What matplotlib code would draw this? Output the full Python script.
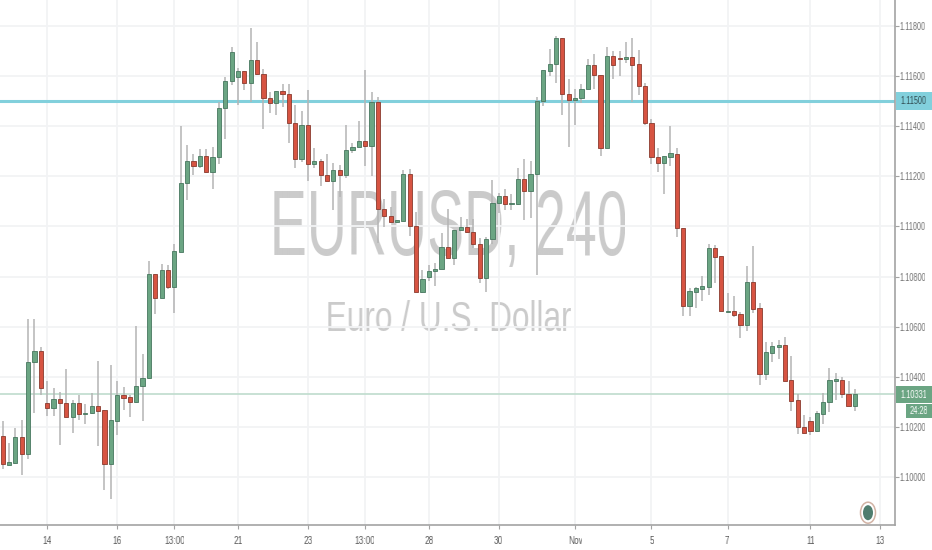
import numpy as np
import matplotlib
matplotlib.use("Agg")
import matplotlib.pyplot as plt
from matplotlib.patches import Ellipse, Rectangle

# 4h candles
opens = [1.10164, 1.10049, 1.10057, 1.10160, 1.10093, 1.10460, 1.10504, 1.10296, 1.10276, 1.10311,
         1.10296, 1.10240, 1.10296, 1.10251, 1.10255, 1.10285, 1.10267, 1.10051, 1.10225, 1.10327,
         1.10319, 1.10301, 1.10361, 1.10395, 1.10812, 1.10715, 1.10827, 1.10760, 1.10899, 1.11175,
         1.11262, 1.11240, 1.11281, 1.11217, 1.11277, 1.11473, 1.11581, 1.11596, 1.11619, 1.11574,
         1.11665, 1.11608, 1.11513, 1.11491, 1.11542, 1.11527, 1.11411, 1.11269, 1.11404, 1.11250,
         1.11262, 1.11207, 1.11180, 1.11226, 1.11207, 1.11306, 1.11317, 1.11342, 1.11321, 1.11495,
         1.11069, 1.11040, 1.11017, 1.11021, 1.11209, 1.11000, 1.10739, 1.10800, 1.10823, 1.10829,
         1.10918, 1.10873, 1.10984, 1.10997, 1.10979, 1.10931, 1.10796, 1.10950, 1.11094, 1.11121,
         1.11089, 1.11090, 1.11189, 1.11140, 1.11208, 1.11502, 1.11621, 1.11648, 1.11751, 1.11527,
         1.11503, 1.11513, 1.11548, 1.11645, 1.11605, 1.11313, 1.11679, 1.11673, 1.11668, 1.11677,
         1.11648, 1.11560, 1.11411, 1.11279, 1.11253, 1.11279, 1.11291, 1.10993, 1.10681, 1.10740,
         1.10752, 1.10760, 1.10914, 1.10881, 1.10659, 1.10663, 1.10649, 1.10606, 1.10780, 1.10674,
         1.10409, 1.10496, 1.10518, 1.10525, 1.10385, 1.10306, 1.10199, 1.10225, 1.10183, 1.10252,
         1.10298, 1.10384, 1.10388, 1.10330, 1.10282]
highs = [1.10223, 1.10136, 1.10195, 1.10227, 1.10629, 1.10629, 1.10520, 1.10381, 1.10355, 1.10337,
         1.10429, 1.10307, 1.10327, 1.10292, 1.10333, 1.10461, 1.10267, 1.10447, 1.10381, 1.10360,
         1.10328, 1.10603, 1.10491, 1.10860, 1.10812, 1.10849, 1.10847, 1.10930, 1.11399, 1.11326,
         1.11290, 1.11310, 1.11310, 1.11319, 1.11498, 1.11597, 1.11718, 1.11634, 1.11621, 1.11793,
         1.11735, 1.11630, 1.11536, 1.11542, 1.11568, 1.11568, 1.11485, 1.11460, 1.11543, 1.11315,
         1.11270, 1.11290, 1.11253, 1.11246, 1.11405, 1.11335, 1.11420, 1.11626, 1.11536, 1.11518,
         1.11111, 1.11078, 1.11026, 1.11226, 1.11230, 1.11056, 1.10826, 1.10846, 1.10853, 1.10972,
         1.11068, 1.10987, 1.11036, 1.11028, 1.11028, 1.10952, 1.10959, 1.11187, 1.11134, 1.11151,
         1.11131, 1.11234, 1.11270, 1.11260, 1.11518, 1.11623, 1.11707, 1.11759, 1.11751, 1.11589,
         1.11548, 1.11568, 1.11668, 1.11687, 1.11605, 1.11718, 1.11701, 1.11701, 1.11736, 1.11754,
         1.11703, 1.11574, 1.11429, 1.11314, 1.11281, 1.11401, 1.11314, 1.10993, 1.10754, 1.10760,
         1.10803, 1.10930, 1.10926, 1.10881, 1.10736, 1.10723, 1.10660, 1.10843, 1.10920, 1.10696,
         1.10540, 1.10537, 1.10547, 1.10558, 1.10482, 1.10332, 1.10248, 1.10239, 1.10262, 1.10335,
         1.10435, 1.10415, 1.10397, 1.10384, 1.10351]
lows = [1.10031, 1.10047, 1.10053, 1.10008, 1.10073, 1.10257, 1.10328, 1.10243, 1.10245, 1.10129,
        1.10240, 1.10176, 1.10227, 1.10213, 1.10253, 1.10125, 1.09949, 1.09913, 1.10169, 1.10268,
        1.10240, 1.10296, 1.10224, 1.10392, 1.10649, 1.10715, 1.10752, 1.10653, 1.10899, 1.11105,
        1.11207, 1.11233, 1.11215, 1.11148, 1.11250, 1.11351, 1.11563, 1.11486, 1.11543, 1.11498,
        1.11604, 1.11388, 1.11452, 1.11445, 1.11478, 1.11332, 1.11233, 1.11256, 1.11180, 1.11232,
        1.11162, 1.11180, 1.11065, 1.11118, 1.11192, 1.11294, 1.11317, 1.11242, 1.11203, 1.10935,
        1.10996, 1.11016, 1.11012, 1.11021, 1.10962, 1.10739, 1.10736, 1.10784, 1.10763, 1.10829,
        1.10873, 1.10846, 1.10984, 1.10972, 1.10913, 1.10776, 1.10740, 1.10930, 1.11052, 1.11065,
        1.11066, 1.11087, 1.11025, 1.11034, 1.10807, 1.11482, 1.11599, 1.11572, 1.11446, 1.11319,
        1.11405, 1.11491, 1.11548, 1.11550, 1.11283, 1.11313, 1.11588, 1.11599, 1.11654, 1.11495,
        1.11526, 1.11403, 1.11249, 1.11217, 1.11131, 1.11242, 1.10956, 1.10644, 1.10641, 1.10673,
        1.10701, 1.10726, 1.10774, 1.10661, 1.10659, 1.10638, 1.10554, 1.10583, 1.10656, 1.10365,
        1.10388, 1.10460, 1.10470, 1.10384, 1.10262, 1.10173, 1.10173, 1.10169, 1.10178, 1.10213,
        1.10258, 1.10308, 1.10315, 1.10282, 1.10264]
closes = [1.10051, 1.10059, 1.10160, 1.10093, 1.10460, 1.10504, 1.10353, 1.10276, 1.10311, 1.10296,
          1.10240, 1.10296, 1.10252, 1.10256, 1.10285, 1.10265, 1.10051, 1.10227, 1.10327, 1.10316,
          1.10301, 1.10363, 1.10395, 1.10812, 1.10716, 1.10827, 1.10760, 1.10900, 1.11175, 1.11262,
          1.11240, 1.11281, 1.11217, 1.11277, 1.11473, 1.11581, 1.11695, 1.11619, 1.11574, 1.11665,
          1.11607, 1.11513, 1.11491, 1.11542, 1.11527, 1.11411, 1.11269, 1.11404, 1.11250, 1.11262,
          1.11207, 1.11180, 1.11226, 1.11207, 1.11306, 1.11318, 1.11343, 1.11321, 1.11495, 1.11069,
          1.11040, 1.11019, 1.11024, 1.11209, 1.11000, 1.10739, 1.10789, 1.10823, 1.10830, 1.10918,
          1.10873, 1.10987, 1.10997, 1.10976, 1.10930, 1.10796, 1.10951, 1.11095, 1.11121, 1.11089,
          1.11093, 1.11191, 1.11140, 1.11208, 1.11502, 1.11623, 1.11648, 1.11751, 1.11527, 1.11505,
          1.11513, 1.11550, 1.11645, 1.11603, 1.11313, 1.11681, 1.11644, 1.11668, 1.11677, 1.11646,
          1.11560, 1.11411, 1.11279, 1.11253, 1.11281, 1.11293, 1.10992, 1.10681, 1.10743, 1.10754,
          1.10762, 1.10914, 1.10879, 1.10661, 1.10664, 1.10646, 1.10606, 1.10780, 1.10671, 1.10409,
          1.10498, 1.10521, 1.10525, 1.10384, 1.10303, 1.10198, 1.10177, 1.10183, 1.10254, 1.10298,
          1.10385, 1.10389, 1.10330, 1.10282, 1.10331]

price_ticks = [1.100, 1.102, 1.104, 1.106, 1.108, 1.110, 1.112, 1.114, 1.116, 1.118]
time_ticks = [7, 18, 27, 37, 48, 57, 67, 78, 90, 102, 114, 127, 138]
time_labels = ["14", "16", "13:00", "21", "23", "13:00", "28", "30", "Nov", "5", "7", "11", "13"]
alert_level = 1.115
last_price = 1.10331
countdown = "24:28"
symbol_title = "EURUSD, 240"
symbol_name = "Euro / U.S. Dollar"

UP = "#6ba583"
DOWN = "#d75442"
UP_EDGE = "#47775e"
DOWN_EDGE = "#8a3a2e"
WICK = "#b4b4b4"
GRID = "#f2f3f5"
AXIS = "#a3a3a3"
FONT = ["Liberation Sans", "DejaVu Sans"]


def squeeze_x(k):
    # no narrow font installed, so shrink the drawn text sideways (box average)
    def flt(img, dpi):
        hh, ww = img.shape[:2]
        new_w = max(int(ww * k), 1)
        alpha = img[..., 3:]
        pm = np.concatenate([img[..., :3] * alpha, alpha], axis=2)
        cum = np.concatenate([np.zeros((hh, 1, 4)), np.cumsum(pm, axis=1)], axis=1)
        edges = np.arange(new_w + 1) / k
        i0 = np.clip(edges.astype(int), 0, ww - 1)
        f = (edges - i0)[None, :, None]
        val = cum[:, i0] * (1 - f) + cum[:, i0 + 1] * f
        out = (val[:, 1:] - val[:, :-1]) * k
        a = np.clip(out[..., 3:], 0, 1)
        rgb = np.where(a > 0, out[..., :3] / np.maximum(a, 1e-6), 0)
        return np.clip(np.concatenate([rgb, a], axis=2), 0, 1), (ww - new_w) // 2, 0
    return flt


def fx(px):
    return px / 932


def fy(py):
    return 1 - py / 550


fig = plt.figure(figsize=(9.32, 5.5), dpi=100)
fig.patch.set_facecolor("white")
ax = fig.add_axes([0, fy(525), fx(895), 525 / 550])
ax.patch.set_alpha(0)
ax.set_xlim(-0.42, 140.3)
ax.set_ylim(1.09808, 1.11904)

ax.set_axisbelow(True)
ax.grid(True, color=GRID, lw=1.3)

for s in ["top", "left"]:
    ax.spines[s].set_visible(False)
for s in ["right", "bottom"]:
    ax.spines[s].set_color(AXIS)
    ax.spines[s].set_linewidth(1.2)

ax.yaxis.tick_right()
ax.set_yticks(price_ticks)
ax.set_yticklabels(["%.5f" % p for p in price_ticks], family=FONT, fontsize=7.3, color="#6f6f6f", ha="center")
ax.set_xticks(time_ticks)
ax.set_xticklabels(time_labels, family=FONT, fontsize=7.2, color="#555555")
ax.tick_params(axis="y", length=3, width=0.8, color=AXIS, pad=9.5)
ax.tick_params(axis="x", length=3, width=0.8, color=AXIS, pad=5)
for lab in ax.get_yticklabels():
    lab.set_agg_filter(squeeze_x(0.72))
for lab in ax.get_xticklabels():
    lab.set_agg_filter(squeeze_x(0.82))

# watermark, under the axes
t1 = fig.text(fx(448), fy(255), symbol_title, color="#cbcbcb", family=FONT, fontsize=67,
              ha="center", va="baseline", zorder=-1)
t2 = fig.text(fx(448), fy(331), symbol_name, color="#cbcbcb", family=FONT, fontsize=31,
              ha="center", va="baseline", zorder=-1)
t1.set_agg_filter(squeeze_x(0.597))
t2.set_agg_filter(squeeze_x(0.735))

# price lines
ax.axhline(alert_level, color="#82d0dc", lw=2.2, zorder=2)
ax.axhline(last_price, color="#bfdccd", lw=1.2, zorder=2)

# candles
x = np.arange(len(opens))
o = np.array(opens)
c = np.array(closes)
up = c >= o
ax.vlines(x, lows, highs, color=WICK, lw=1.1, zorder=3)
ax.bar(x, np.abs(c - o), bottom=np.minimum(o, c), width=0.66,
       color=[UP if u else DOWN for u in up],
       edgecolor=[UP_EDGE if u else DOWN_EDGE for u in up], linewidth=0.6, zorder=4)

# tags on the price scale
tags = [Rectangle((fx(895.5), fy(110)), fx(36.5), 18 / 550, color="#82d0dc", lw=0),
        Rectangle((fx(895.5), fy(403)), fx(36.5), 17 / 550, color=UP, lw=0),
        Rectangle((fx(906), fy(418)), fx(26), 14 / 550, color=UP, lw=0)]
for tag in tags:
    tag.set_transform(fig.transFigure)
    fig.add_artist(tag)
tag_texts = [fig.text(fx(913.5), fy(101), "%.5f" % alert_level, family=FONT, fontsize=7.3, color="#2f4a4f",
                      ha="center", va="center"),
             fig.text(fx(913.5), fy(394.5), "%.5f" % last_price, family=FONT, fontsize=7.3, color="white",
                      ha="center", va="center"),
             fig.text(fx(919), fy(411), countdown, family=FONT, fontsize=7.3, color="white",
                      ha="center", va="center")]
for tt in tag_texts:
    tt.set_agg_filter(squeeze_x(0.72))

# logo badge, bottom right
w, h = 932, 550
fig.add_artist(Ellipse((fx(868), fy(512.7)), 15 / w, 21 / h, transform=fig.transFigure,
                       facecolor="white", edgecolor="#d2b3a5", lw=1.1))
fig.add_artist(Ellipse((fx(868), fy(512.7)), 10 / w, 15 / h, transform=fig.transFigure,
                       facecolor="#4f7d6e", edgecolor="none"))

fig.savefig("out.png", dpi=100)
